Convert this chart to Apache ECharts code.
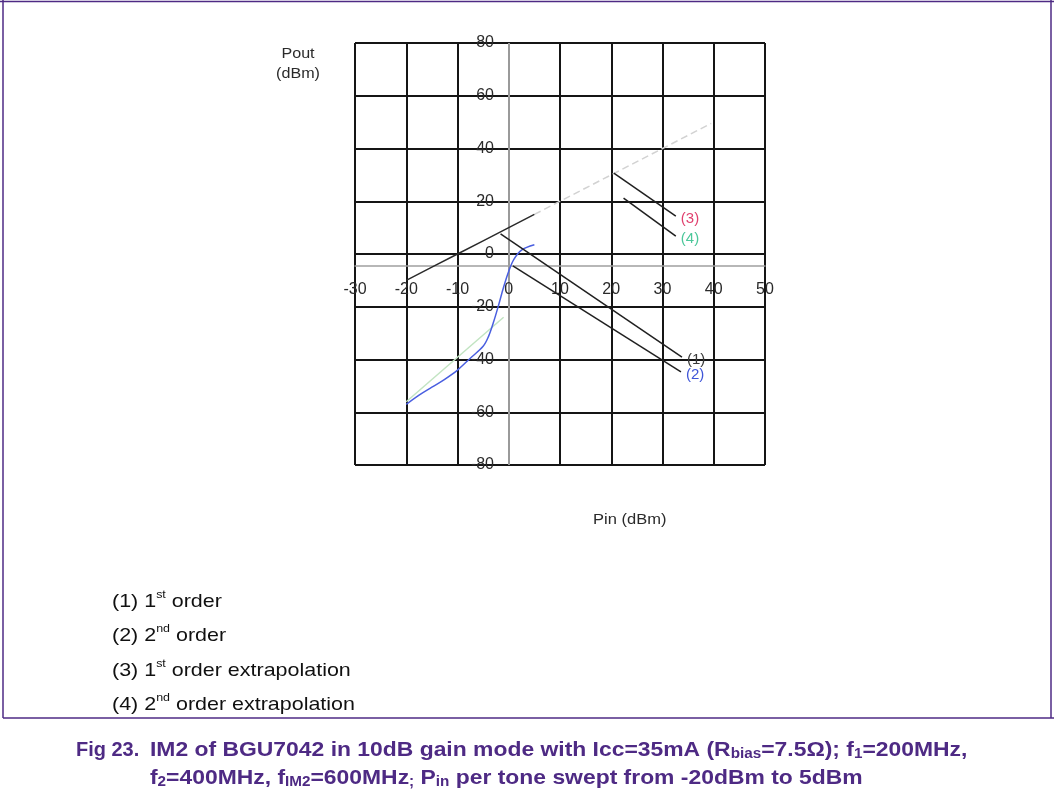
<!DOCTYPE html>
<html>
<head>
<meta charset="utf-8">
<script src="https://cdn.jsdelivr.net/npm/echarts@6/dist/echarts.min.js"></script>
<style>
  html, body { margin: 0; padding: 0; background: #ffffff; }
  #chart { width: 1054px; height: 800px; }
</style>
</head>
<body>
<div id="chart"></div>
<script>
// Axis ticks
const xTicks = [-30, -20, -10, 0, 10, 20, 30, 40, 50];
const yTicks = [-80, -60, -40, -20, 0, 20, 40, 60, 80];

// (1) 1st order output power vs input power per tone
const firstOrder = [[-20, -10], [-15, -5], [-10, 0], [-5, 5], [0, 10], [5, 15]];
// (2) 2nd order (IM2) output power
const secondOrder = [
  [-20, -57], [-17.5, -53.5], [-15, -50.5], [-12.5, -47.5], [-10, -44],
  [-7.5, -39.5], [-5, -35], [-4, -31.5], [-3, -26], [-2, -19.5],
  [-1, -12.5], [0, -6.5], [1, -2], [2.5, 1.5], [5, 3.5]
];
// (3) 1st order extrapolation
const firstOrderExtrap = [[5, 15], [39.5, 49.5]];
// (4) 2nd order extrapolation
const secondOrderExtrap = [[-20, -56], [-1, -24]];

// Callout leaders: start on the trace, end next to the tag
const leader1 = [[-1.6, 7.6], [33.8, -39.1]];
const leader2 = [[0.8, -4.5], [33.6, -44.7]];
const leader3 = [[20.5, 30.7], [32.6, 14.4]];
const leader4 = [[22.4, 21.2], [32.6, 6.8]];

const tags = ['(1)', '(2)', '(3)', '(4)'];
const tagColors = ['#3a3a3a', '#3f55d8', '#e0406e', '#4cc79a'];

const legendRows = [
  ['(1) 1', 'st', ' order'],
  ['(2) 2', 'nd', ' order'],
  ['(3) 1', 'st', ' order extrapolation'],
  ['(4) 2', 'nd', ' order extrapolation']
];

const purple = '#4e2a84';
const gridBlack = '#151515';
const sans = 'Liberation Sans, Arial, sans-serif';

const chart = echarts.init(document.getElementById('chart'), null, { renderer: 'canvas' });

function leaderSeries(name, pts, tag, color) {
  return {
    name: name,
    type: 'line',
    data: pts,
    symbol: 'none',
    silent: true,
    lineStyle: { color: '#202020', width: 1.5 },
    endLabel: {
      show: true, formatter: tag, distance: 5, offset: [0, 3],
      color: color, fontFamily: sans, fontSize: 15
    },
    z: 4
  };
}

const splitColorsX = xTicks.map(v => v === 0 ? '#9a9a9a' : gridBlack);

const option = {
  backgroundColor: '#ffffff',
  animation: false,
  grid: { left: 355, top: 43, width: 410, height: 422, containLabel: false },
  xAxis: {
    type: 'value',
    min: xTicks[0], max: xTicks[xTicks.length - 1], interval: 10,
    position: 'bottom',
    offset: -199,
    axisLine: { show: true, onZero: false, lineStyle: { color: '#a0a0a0', width: 1.5 } },
    axisTick: { show: false },
    axisLabel: {
      margin: 16, fontSize: 16, color: '#2a2a2a', fontFamily: sans,
      showMinLabel: true, showMaxLabel: true
    },
    splitLine: { show: true, lineStyle: { color: splitColorsX, width: 2 } }
  },
  yAxis: {
    type: 'value',
    min: yTicks[0], max: yTicks[yTicks.length - 1], interval: 20,
    position: 'left',
    offset: -153,
    axisLine: { show: false, onZero: false },
    axisTick: { show: false },
    axisLabel: {
      margin: 14, fontSize: 16, color: '#2a2a2a', fontFamily: sans,
      showMinLabel: true, showMaxLabel: true
    },
    splitLine: { show: true, lineStyle: { color: gridBlack, width: 2 } }
  },
  series: [
    {
      name: '1st order extrapolation', type: 'line', data: firstOrderExtrap,
      symbol: 'none', silent: true,
      lineStyle: { color: '#d2d2d2', width: 1.5, type: [7, 4] }, z: 2
    },
    {
      name: '2nd order extrapolation', type: 'line', data: secondOrderExtrap,
      symbol: 'none', silent: true,
      lineStyle: { color: '#c2e4c2', width: 1.5 }, z: 2
    },
    {
      name: '1st order', type: 'line', data: firstOrder,
      symbol: 'none', silent: true,
      lineStyle: { color: '#2a2a2a', width: 1.5 }, z: 3
    },
    {
      name: '2nd order', type: 'line', data: secondOrder,
      symbol: 'none', silent: true, smooth: 0.35,
      lineStyle: { color: '#4a5fe0', width: 1.5 }, z: 3
    },
    leaderSeries('tag1', leader1, tags[0], tagColors[0]),
    leaderSeries('tag2', leader2, tags[1], tagColors[1]),
    leaderSeries('tag3', leader3, tags[2], tagColors[2]),
    leaderSeries('tag4', leader4, tags[3], tagColors[3])
  ],
  graphic: [
    // frame
    { type: 'line', shape: { x1: 0, y1: 1.5, x2: 1054, y2: 1.5 }, style: { stroke: purple, lineWidth: 1.5 } },
    { type: 'line', shape: { x1: 3, y1: 0, x2: 3, y2: 718 }, style: { stroke: purple, lineWidth: 1.5 } },
    { type: 'line', shape: { x1: 1051, y1: 0, x2: 1051, y2: 718 }, style: { stroke: purple, lineWidth: 1.5 } },
    { type: 'line', shape: { x1: 3, y1: 718, x2: 1054, y2: 718 }, style: { stroke: purple, lineWidth: 1.5 } },
    // axis names
    {
      type: 'text', x: 298, y: 44, scaleX: 1.15,
      style: {
        text: 'Pout\n(dBm)', fill: '#2a2a2a', align: 'center', lineHeight: 20,
        font: '14px "Liberation Sans", Arial, sans-serif'
      }
    },
    {
      type: 'text', x: 593, y: 513, scaleX: 1.18,
      style: {
        text: 'Pin (dBm)', fill: '#2a2a2a', align: 'left',
        font: '14px "Liberation Sans", Arial, sans-serif'
      }
    },
    // key
    ...legendRows.map((row, i) => ({
      type: 'text', x: 112, y: 589 + i * 34.5, scaleX: 1.13,
      style: {
        text: '{n|' + row[0] + '}{s|' + row[1] + '}{n|' + row[2] + '}',
        rich: {
          n: { fontSize: 19, lineHeight: 22, fill: '#111', fontFamily: sans, verticalAlign: 'bottom' },
          s: { fontSize: 11, lineHeight: 22, fill: '#111', fontFamily: sans, verticalAlign: 'top' }
        }
      }
    })),
    // caption
    {
      type: 'text', x: 76, y: 733, scaleX: 0.95,
      style: {
        text: '{b|Fig 23.}',
        rich: {
          b: { fontSize: 21, fontWeight: 'bold', lineHeight: 28, fill: purple, fontFamily: sans, verticalAlign: 'bottom' }
        }
      }
    },
    {
      type: 'text', x: 150, y: 733, scaleX: 1.09,
      style: {
        text: '{b|IM2 of BGU7042 in 10dB gain mode with Icc=35mA (R}{u|bias}{b|=7.5\u03A9); f}{u|1}{b|=200MHz,}\n' +
              '{b|f}{u|2}{b|=400MHz, f}{u|IM2}{b|=600MHz}{u|;}{b| P}{u|in}{b| per tone swept from -20dBm to 5dBm}',
        rich: {
          b: { fontSize: 21, fontWeight: 'bold', lineHeight: 28, fill: purple, fontFamily: sans, verticalAlign: 'bottom' },
          u: { fontSize: 14, fontWeight: 'bold', lineHeight: 28, fill: purple, fontFamily: sans, verticalAlign: 'bottom' }
        }
      }
    }
  ]
};

chart.setOption(option);
</script>
</body>
</html>
